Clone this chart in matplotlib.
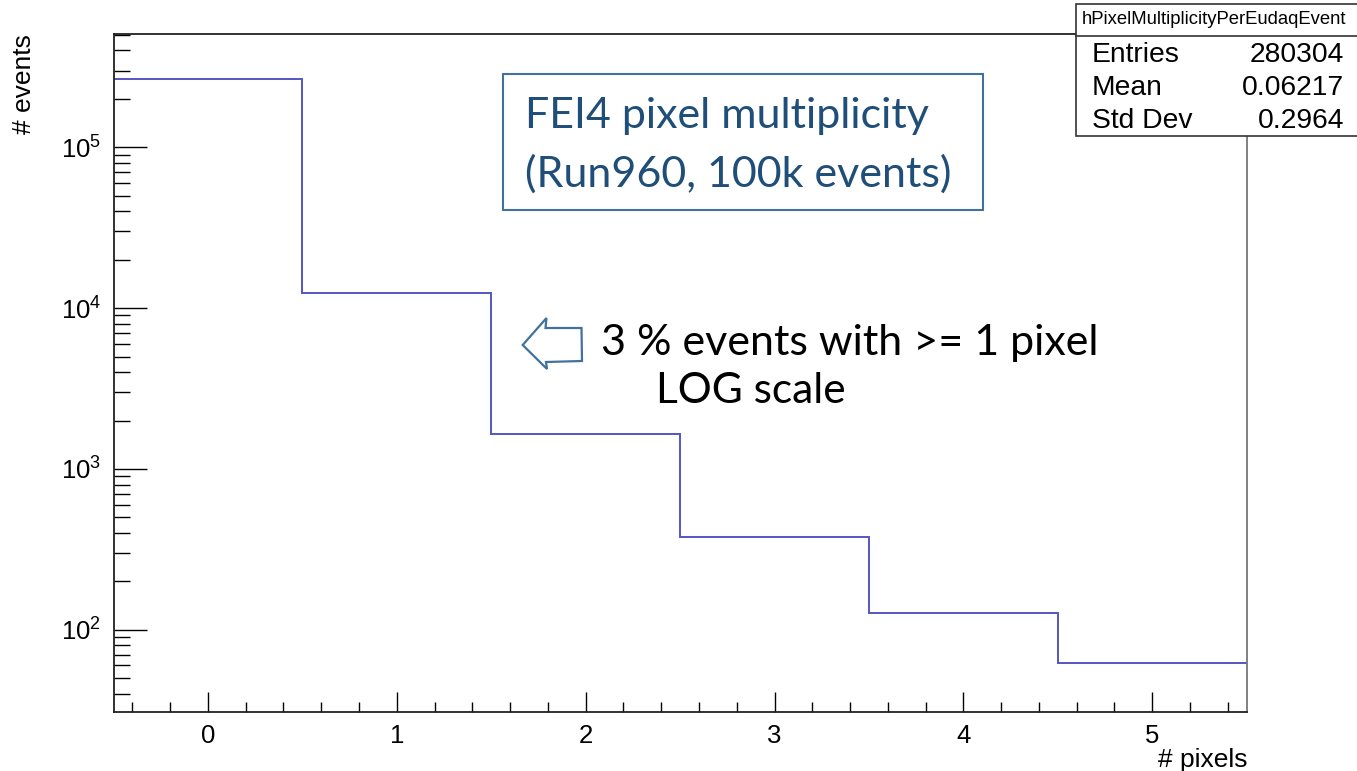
import numpy as np
import matplotlib
matplotlib.use("Agg")
import matplotlib.pyplot as plt
import matplotlib.patches as mpatches
from matplotlib.ticker import FixedLocator, FixedFormatter, MultipleLocator

plt.rcParams['font.family'] = ['Liberation Sans', 'DejaVu Sans']
plt.rcParams['mathtext.fontset'] = 'custom'
plt.rcParams['mathtext.rm'] = 'Liberation Sans'
plt.rcParams['mathtext.it'] = 'Liberation Sans'

# histogram contents
bin_edges = [-0.5, 0.5, 1.5, 2.5, 3.5, 4.5, 5.5]
bin_counts = [265000, 12330, 1645, 378, 127, 62]

xtick_vals = [0, 1, 2, 3, 4, 5]
ytick_vals = [1e2, 1e3, 1e4, 1e5]
ytick_labels = [r'$10^{2}$', r'$10^{3}$', r'$10^{4}$', r'$10^{5}$']

stats_names = ["Entries", "Mean", "Std Dev"]
stats_values = ["280304", "0.06217", "0.2964"]
hist_name = "hPixelMultiplicityPerEudaqEvent"

W, H = 1357, 771
fig = plt.figure(figsize=(W / 100, H / 100), dpi=100)


def fx(px):
    return px / W


def fy(py):
    return 1 - py / H


# axes frame in pixels: left 113.5, right 1246.7, top 34, bottom 711.7
ax = fig.add_axes((fx(113.5), fy(711.7), fx(1246.7 - 113.5), (711.7 - 34) / H))

ax.stairs(bin_counts, bin_edges, baseline=None, color='#5555c4', linewidth=1.4)

ax.set_yscale('log')
ax.set_xlim(-0.5, 5.5)
ax.set_ylim(30.95, 5.06e5)

ax.xaxis.set_major_locator(FixedLocator(xtick_vals))
ax.xaxis.set_minor_locator(MultipleLocator(0.2))
ax.yaxis.set_major_locator(FixedLocator(ytick_vals))
ax.yaxis.set_major_formatter(FixedFormatter(ytick_labels))
minor_y = [m * 10 ** e for e in range(1, 6) for m in range(2, 10)]
ax.yaxis.set_minor_locator(FixedLocator(minor_y))
ax.yaxis.set_minor_formatter(FixedFormatter([''] * len(minor_y)))

ax.tick_params(axis='x', which='major', direction='in', length=14.4, width=1, labelsize=18.5, pad=9)
ax.tick_params(axis='x', which='minor', direction='in', length=7.2, width=1)
ax.tick_params(axis='y', which='major', direction='in', length=23.8, width=1, labelsize=18.5, pad=9)
ax.tick_params(axis='y', which='minor', direction='in', length=11.5, width=1)

for side in ['left', 'bottom', 'top']:
    ax.spines[side].set_linewidth(1.3)
    ax.spines[side].set_color('#222222')
ax.spines['right'].set_linewidth(1.3)
ax.spines['right'].set_color('#777777')

fig.text(fx(1247), fy(760), "# pixels", ha='right', va='center', fontsize=19)
fig.text(fx(24), fy(34), "# events", ha='center', va='top', rotation=90, fontsize=19)

# stats box
fig.patches.append(mpatches.Rectangle((fx(1076), fy(136)), fx(W - 1076 + 5), (136 - 4) / H,
                                      transform=fig.transFigure, facecolor='white',
                                      edgecolor='#333333', linewidth=1.2, zorder=5))
fig.lines.append(plt.Line2D([fx(1076), 1], [fy(36), fy(36)], transform=fig.transFigure,
                            color='#333333', linewidth=1.2, zorder=6))
fig.text(fx(1214), fy(20), hist_name, ha='center', va='center', fontsize=13.3, zorder=7)
for i, (name, val) in enumerate(zip(stats_names, stats_values)):
    yc = 55 + i * 33
    fig.text(fx(1092), fy(yc), name, ha='left', va='center', fontsize=20.3, zorder=7)
    fig.text(fx(1344), fy(yc), val, ha='right', va='center', fontsize=20.3, zorder=7)

# title box
fig.patches.append(mpatches.Rectangle((fx(503), fy(210)), fx(983 - 503), (210 - 74) / H,
                                      transform=fig.transFigure, facecolor='white',
                                      edgecolor='#41719c', linewidth=1.5, zorder=5))
fig.text(fx(525), fy(128), "FEI4 pixel multiplicity", ha='left', va='baseline',
         fontsize=31, color='#1f4e79', family='Lato', zorder=7)
fig.text(fx(525), fy(187), "(Run960, 100k events)", ha='left', va='baseline',
         fontsize=31, color='#1f4e79', family='Lato', zorder=7)

# block arrow pointing left
arrow_px = [(522.7, 345), (546.5, 318), (545.5, 328), (581.5, 328),
            (582, 361), (546, 362), (547, 369)]
fig.patches.append(mpatches.Polygon([(fx(x), fy(y)) for x, y in arrow_px], closed=True,
                                    transform=fig.transFigure, facecolor='white',
                                    edgecolor='#41719c', linewidth=1.6, zorder=5))

fig.text(fx(601), fy(355), "3 % events with >= 1 pixel", ha='left', va='baseline',
         fontsize=31, color='black', family='Lato', zorder=7)
fig.text(fx(656), fy(403), "LOG scale", ha='left', va='baseline',
         fontsize=30.5, color='black', family='Lato', zorder=7)

fig.savefig("out.png", dpi=100)
